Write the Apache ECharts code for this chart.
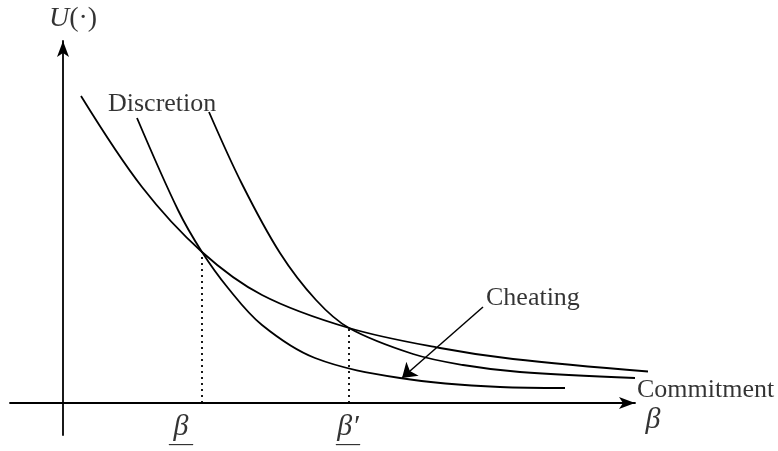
<!DOCTYPE html>
<html>
<head>
<meta charset="utf-8">
<script src="https://cdn.jsdelivr.net/npm/echarts@6/dist/echarts.min.js"></script>
<style>
html, body { margin: 0; padding: 0; background: #fff; }
#main { width: 778px; height: 451px; }
</style>
</head>
<body>
<div id="main"></div>
<script>
// points: [beta, U]
var flatCurve = [[18,307],[79,216],[139,151],[199,108],[286,75],[377,55],[450,44],[585,31.5]];
var lowCurve = [[74,285],[115,193],[139,151],[165,115],[199,78],[252,45],[337,25],[437,16],[502,15]];
var steepCurve = [[146,291],[179,219],[217,150],[253,103],[286,75],[350,49],[400,38],[457,31],[572,25]];
var betaCuts = [139, 286];
var cutLevels = [151, 75];
var cheatingArrow = [[420,96],[339,25]];

var curveLabels = ['Discretion', 'Cheating', 'Commitment'];
var curveLabelPos = [[45,299],[423,105],[574,13]];
var tickLabels = ['{b|β}\n{ul|—}', '{b|β′}\n{ul|—}'];
var tickLabelPos = [[118,-27],[285,-27]];

var serif = '"Liberation Serif", "Times New Roman", serif';

// curves live on a second, wider grid with the same scale so the long tail is not cut at the arrow
var curveStyle = { color: '#000', width: 1.8 };
function curve(data) {
  return {
    type: 'line', data: data, smooth: 0.35, xAxisIndex: 1, yAxisIndex: 1,
    showSymbol: false, clip: false, lineStyle: curveStyle, silent: true
  };
}

var texts = [];
curveLabels.forEach(function (n, i) {
  texts.push({ name: n, value: curveLabelPos[i], label: { position: 'right', distance: 0 } });
});
tickLabels.forEach(function (n, i) {
  texts.push({ name: n, value: tickLabelPos[i], label: { position: 'inside' } });
});
texts.push({ name: '{u|U}{n|(·)}', value: [-14, 384], label: { position: 'right', distance: 0 } });
texts.push({ name: '{b|β}', value: [590, -17], label: { position: 'inside' } });

var series = [curve(flatCurve), curve(lowCurve), curve(steepCurve)];
betaCuts.forEach(function (b, i) {
  series.push({
    type: 'line', data: [[b, 0], [b, cutLevels[i]]], showSymbol: false, silent: true,
    lineStyle: { color: '#000', width: 1.8, type: [2, 4] }
  });
});
series.push({
  type: 'lines', coordinateSystem: 'cartesian2d', silent: true,
  symbol: ['none', 'arrow'], symbolSize: 14,
  lineStyle: { color: '#000', width: 1.5, opacity: 1 },
  data: [{ coords: cheatingArrow }]
});
series.push({
  type: 'scatter', symbolSize: 0, clip: false, silent: true, data: texts,
  label: {
    show: true, color: '#000', fontFamily: serif, fontSize: 26,
    formatter: function (p) { return p.name; },
    rich: {
      b: { fontFamily: serif, fontStyle: 'italic', fontSize: 30, lineHeight: 28, color: '#000' },
      ul: { fontFamily: serif, fontSize: 24, lineHeight: 6, color: '#000' },
      u: { fontFamily: serif, fontStyle: 'italic', fontSize: 28, color: '#000' },
      n: { fontFamily: serif, fontSize: 28, color: '#000' }
    }
  }
});

var axisArrow = { onZero: true, symbol: ['none', 'arrow'], symbolSize: [9, 16], lineStyle: { color: '#000', width: 1.8 } };
var bare = { axisTick: { show: false }, axisLabel: { show: false }, splitLine: { show: false } };

var chart = echarts.init(document.getElementById('main'));
chart.setOption({
  animation: false,
  grid: [
    { left: 10, right: 143, top: 41, bottom: 16 },
    { left: 10, right: 100, top: 41, bottom: 16 }
  ],
  xAxis: [
    Object.assign({ type: 'value', min: -53, max: 572, gridIndex: 0, axisLine: axisArrow }, bare),
    Object.assign({ type: 'value', min: -53, max: 615, gridIndex: 1, show: false }, bare)
  ],
  yAxis: [
    Object.assign({ type: 'value', min: -32, max: 362, gridIndex: 0, axisLine: Object.assign({ show: true }, axisArrow) }, bare),
    Object.assign({ type: 'value', min: -32, max: 362, gridIndex: 1, show: false }, bare)
  ],
  series: series
});
</script>
</body>
</html>
